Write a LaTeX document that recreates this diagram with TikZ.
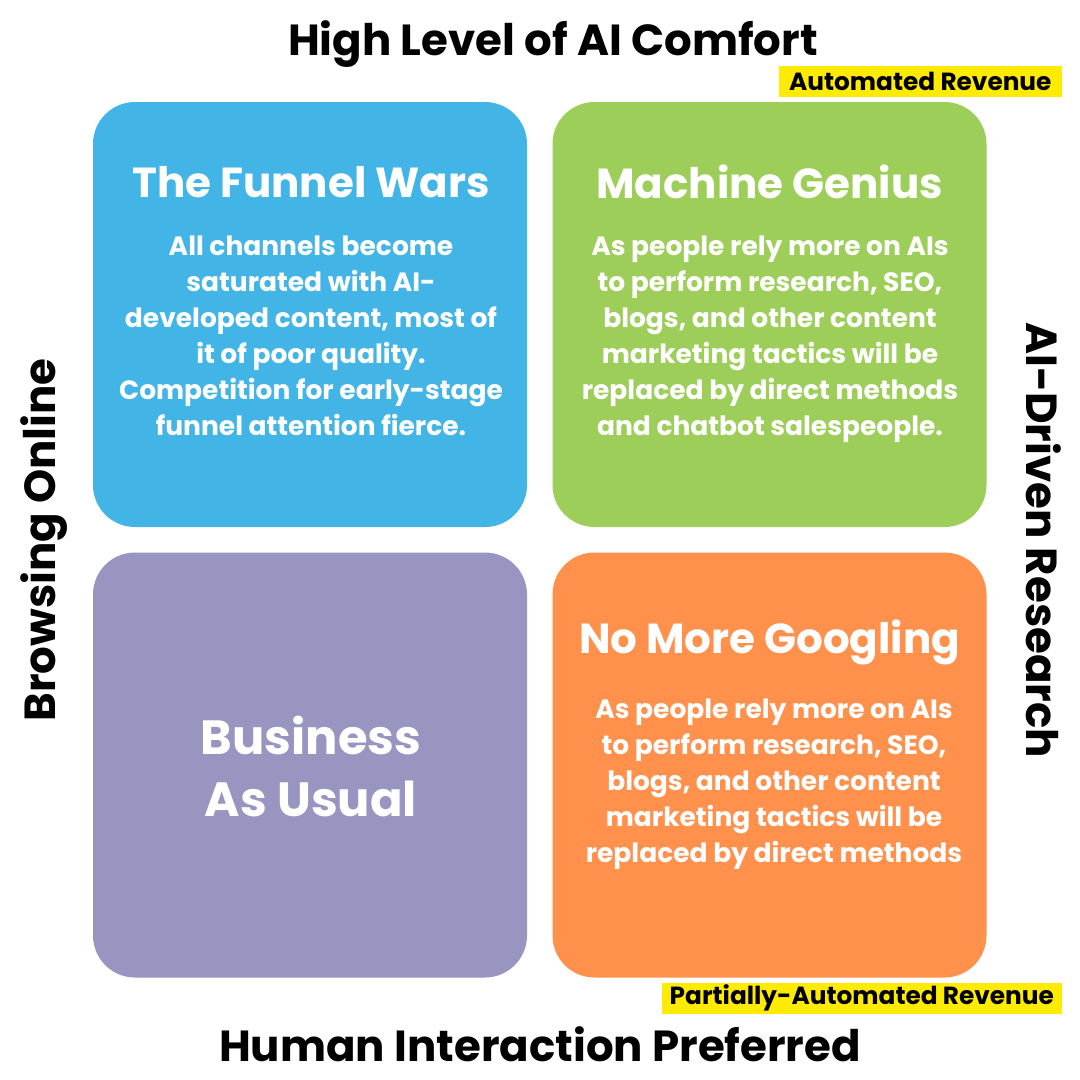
\documentclass[tikz,border=0pt]{standalone}
\usepackage{fontspec}
\setmainfont{Poppins}
\usetikzlibrary{positioning}
\definecolor{FunnelBlue}{HTML}{42B4E6}
\definecolor{GeniusGreen}{HTML}{9ECE5A}
\definecolor{UsualPurple}{HTML}{9895C0}
\definecolor{GoogOrange}{HTML}{FF914D}
\definecolor{TagYellow}{HTML}{FFEB00}
\newcommand{\quadw}{434pt}
\newcommand{\quadh}{425pt}
\newcommand{\quadr}{42pt}
\tikzset{
  quad/.style={minimum width=\quadw, minimum height=\quadh, rounded corners=\quadr, inner sep=0pt},
  quadtitle/.style={text=white, font=\fontsize{42}{48}\selectfont\bfseries},
  quadbody/.style={text=white, align=center, font=\fontsize{26.5}{36}\selectfont\bfseries},
  axis/.style={font=\fontsize{43.5}{48}\selectfont\bfseries, text=black},
  tag/.style={fill=TagYellow, font=\fontsize{24.8}{26}\selectfont\bfseries, inner xsep=0pt, inner ysep=0pt, minimum height=31pt}
}
\begin{document}
\begin{tikzpicture}[x=1pt,y=-1pt]
  \useasboundingbox (0,0) rectangle (1080,1080);
  % quadrants
  \node[quad, fill=FunnelBlue] (funnel) at (310,314.5) {};
  \node[quad, fill=GeniusGreen] (genius) at (769.5,314.5) {};
  \node[quad, fill=UsualPurple] (usual) at (310,765) {};
  \node[quad, fill=GoogOrange] (googling) at (769.5,765) {};

  \node[quadtitle] (funneltitle) at (311,182) {The Funnel Wars};
  \node[quadbody] (funnelbody) at (311,336) {All channels become\\saturated with AI-\\developed content, most of\\it of poor quality.\\Competition for early-stage\\funnel attention fierce.};

  \node[quadtitle] (geniustitle) at (769.5,182) {Machine Genius};
  \node[quadbody] (geniusbody) at (770,339) {As people rely more on AIs\\to perform research, SEO,\\blogs, and other content\\marketing tactics will be\\replaced by direct methods\\and chatbot salespeople.};

  \node[quadtitle, align=center, font=\fontsize{48}{62}\selectfont\bfseries] (usualtitle) at (311,766) {Business\\As Usual};

  \node[quadtitle] (googtitle) at (769.5,642) {No More Googling};
  \node[quadbody] (googbody) at (774,784) {As people rely more on AIs\\to perform research, SEO,\\blogs, and other content\\marketing tactics will be\\replaced by direct methods};

  % axes
  \node[axis] (top) at (553,44) {High Level of AI Comfort};
  \node[axis] (bottom) at (540,1044) {Human Interaction Preferred};
  \node[axis, rotate=90] (left) at (44,540) {Browsing Online};
  \node[axis, rotate=-90] (right) at (1044,540) {AI-Driven Research};

  % revenue tags
  \node[tag, anchor=east, minimum width=283pt] (autorev) at (1062,81.5) {Automated Revenue};
  \node[tag, anchor=east, minimum width=400pt] (partrev) at (1062,998) {Partially-Automated Revenue};
\end{tikzpicture}
\end{document}
